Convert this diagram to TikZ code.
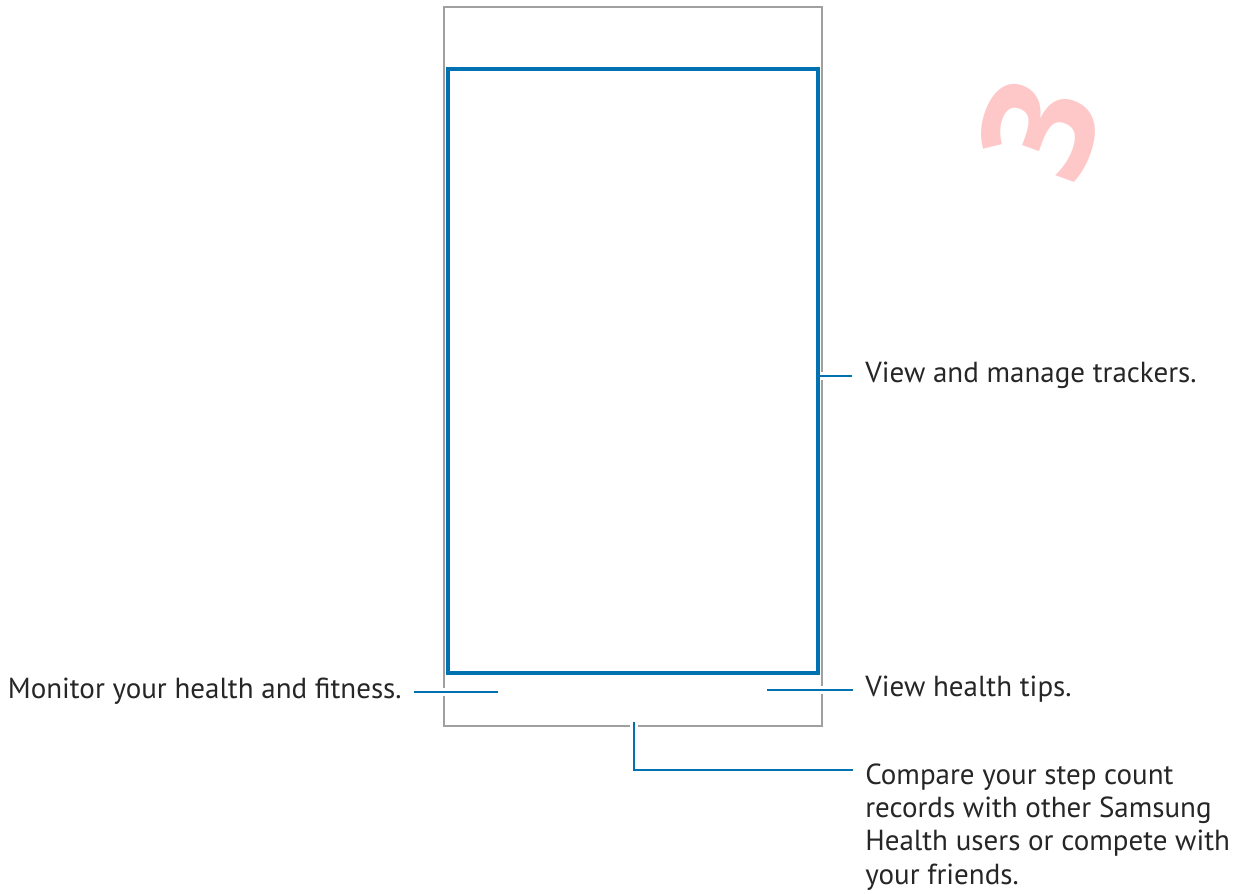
\documentclass[tikz,border=0pt]{standalone}
\usepackage{fontspec}
\setmainfont{PT Sans}
\newfontfamily\markfont{Open Sans}
\usetikzlibrary{positioning,calc,fit}
\definecolor{screenblue}{RGB}{0,114,178}
\definecolor{framegray}{RGB}{160,160,160}
\definecolor{markpink}{RGB}{255,200,200}

\begin{document}
\begin{tikzpicture}[x=0.02cm,y=-0.02cm]
    \tikzset{
        callout/.style={
            font=\fontsize{16.5}{19}\selectfont,
            inner sep=0pt,
            text=black!85
        },
        oneline/.style={
            callout,
            text height=0.78em,
            text depth=0pt
        },
        pointer/.style={
            draw=screenblue,
            line width=1.6pt,
            preaction={draw=white, line width=5pt}
        }
    }
    \useasboundingbox (0,0) rectangle (1239,893);

    % Phone outline
    \coordinate (S_TL) at (444,7);
    \coordinate (S_BR) at (822,726);
    \node[draw=framegray, line width=0.9pt, inner sep=0pt, fit=(S_TL) (S_BR)] (screen) {};

    % Step mark
    \node[text=markpink, font=\markfont\fontsize{88}{88}\selectfont\bfseries, rotate=70] (step) at (1040,129) {3};

    % Callouts
    \node[oneline, anchor=west] (trackers) at (865,376) {View and manage trackers.};
    \node[oneline, anchor=east] (health) at (402,692) {Monitor your health and fitness.};
    \node[oneline, anchor=west] (tips) at (865,690) {View health tips.};
    \node[callout, anchor=north west, align=left] (compare) at (865,763)
        {Compare your step count\\records with other Samsung\\Health users or compete with\\your friends.};

    \coordinate (hlt) at (498,692);
    \coordinate (tip) at (767,690);
    \coordinate (cmp) at (634,722);

    \draw[pointer] ($(health.east)+(12,0)$) -- (hlt);
    \draw[pointer] (tip) -- ($(tips.west)+(-12,0)$);
    \draw[pointer] (cmp) |- ($(compare.north west)+(-12,7)$);
    \draw[pointer] (820,376) -- ($(trackers.west)+(-13,0)$);

    % Display area
    \coordinate (D_TL) at (448,69);
    \coordinate (D_BR) at (818,673);
    \node[draw=screenblue, line width=1.9pt, inner sep=0pt, fit=(D_TL) (D_BR)] (display) {};
\end{tikzpicture}
\end{document}
